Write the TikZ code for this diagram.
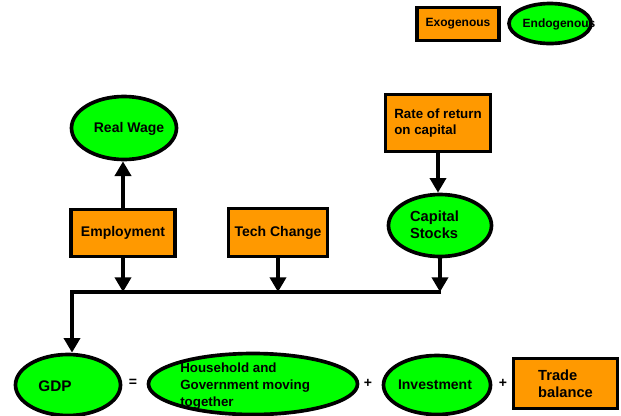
\documentclass[tikz,border=0pt]{standalone}
\usepackage{fontspec}
\setmainfont{Liberation Sans}
\usetikzlibrary{shapes.geometric,arrows.meta}
\definecolor{exofill}{RGB}{255,153,0}
\definecolor{endofill}{RGB}{0,255,0}
\tikzset{>={Triangle[width=12pt,length=11pt]}}
\tikzset{
  exo/.style={draw,line width=2.75pt,fill=exofill,inner sep=0pt,align=left},
  endo/.style={draw,ellipse,line width=2.75pt,fill=endofill,inner sep=0pt},
  txt/.style={inner sep=0pt,align=left},
  flow/.style={line width=3pt,line join=miter,->},
}
\newcommand*{\fsz}[1]{\fontsize{#1}{12.5}\selectfont\bfseries}

\begin{document}
\begin{tikzpicture}[x=0.75pt,y=-0.75pt]
\useasboundingbox (0,0) rectangle (621,415);

% key
\node[exo,minimum width=61.5pt,minimum height=24.75pt,font=\fsz{9}] (exokey) at (458,24) {Exogenous};
\node[endo,minimum width=61.5pt,minimum height=30pt] (endokey) at (550,23.5) {};
\node[txt,font=\fsz{9}] (endokey-t) at (559,24) {Endogenous};

% labour and capital
\node[endo,minimum width=78.75pt,minimum height=47.25pt] (wage) at (124,128) {};
\node[txt,font=\fsz{10.5}] (wage-t) at (129,129) {Real Wage};
\node[exo,minimum width=78pt,minimum height=35.25pt,font=\fsz{10.5}] (employ) at (123,233) {Employment};
\node[exo,minimum width=74.25pt,minimum height=36pt,font=\fsz{10.5}] (tech) at (278,232.5) {Tech Change};
\node[exo,minimum width=78.75pt,minimum height=42.75pt,font=\fsz{10}] (rate) at (438,123) {Rate of return\\on capital};
\node[endo,minimum width=77.25pt,minimum height=46.5pt] (capital) at (440,225.5) {};
\node[txt,font=\fsz{11}] (capital-t) at (434.5,225) {Capital\\Stocks};

% GDP identity
\node[endo,minimum width=78.75pt,minimum height=45.75pt] (gdp) at (68,385) {};
\node[txt,font=\fsz{11.5}] (gdp-t) at (55,386) {GDP};
\node[txt,font=\fsz{10.5}] (eq) at (133,383) {=};
\node[endo,minimum width=156.75pt,minimum height=45.75pt] (cons) at (253,384) {};
\node[txt,font=\fsz{10},anchor=west] (cons-t) at (180,386) {Household and\\Government moving\\together};
\node[txt,font=\fsz{10.5}] (plus1) at (368,383) {+};
\node[endo,minimum width=80.25pt,minimum height=44.25pt] (invest) at (437,385) {};
\node[txt,font=\fsz{10.5}] (invest-t) at (435,385) {Investment};
\node[txt,font=\fsz{10.5}] (plus2) at (503,383) {+};
\node[exo,minimum width=78pt,minimum height=37.5pt,font=\fsz{11}] (trade) at (565.5,383.5) {Trade\\balance};

\coordinate (barL) at (72,292);
\coordinate (barR) at (441,292);

\draw[flow] (employ.north) -- (employ.north |- wage.south);
\draw[flow] (rate.south) -- (rate.south |- capital.north);
\draw[flow] (employ.south) -- (employ.south |- barL);
\draw[flow] (tech.south) -- (tech.south |- barL);
\draw[flow] (capital.south) -- (capital.south |- barR);
\draw[flow] (barR) -- (barL) -- (barL |- gdp.north);
\end{tikzpicture}
\end{document}
